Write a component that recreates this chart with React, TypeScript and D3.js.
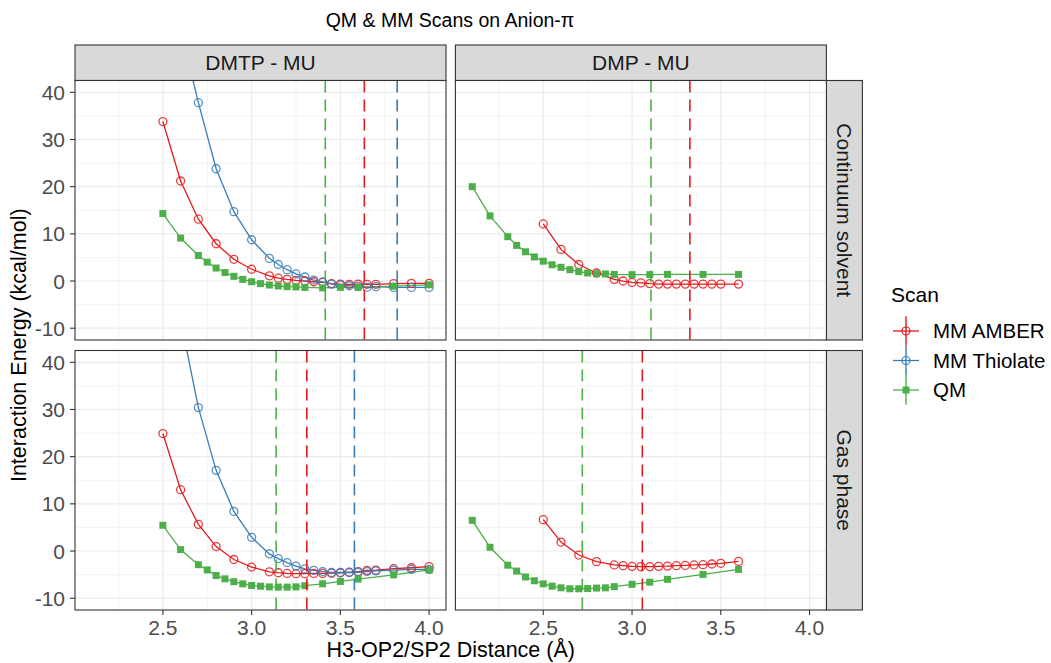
import React from "react";
import * as d3 from "d3";

// x values shared by the MM scans on DMTP - MU
const mmX_DMTP = [2.5, 2.6, 2.7, 2.8, 2.9, 3.0, 3.1, 3.15, 3.2, 3.25, 3.3, 3.35, 3.4, 3.45, 3.5, 3.55, 3.6, 3.65, 3.7, 3.8, 3.9, 4.0];
const qmX_DMTP = [2.5, 2.6, 2.7, 2.75, 2.8, 2.85, 2.9, 2.95, 3.0, 3.05, 3.1, 3.15, 3.2, 3.25, 3.3, 3.4, 3.5, 3.6, 3.8, 4.0];
const mmX_DMP = [2.5, 2.6, 2.7, 2.8, 2.9, 2.95, 3.0, 3.05, 3.1, 3.15, 3.2, 3.25, 3.3, 3.35, 3.4, 3.45, 3.5, 3.6];
const qmX_DMP = [2.1, 2.2, 2.3, 2.35, 2.4, 2.45, 2.5, 2.55, 2.6, 2.65, 2.7, 2.75, 2.8, 2.85, 2.9, 3.0, 3.1, 3.2, 3.4, 3.6];

// Continuum solvent
const amberSolvDMTP = [33.8, 21.2, 13.1, 7.9, 4.6, 2.5, 1.1, 0.6, 0.35, 0.15, 0, -0.15, -0.3, -0.55, -0.65, -0.7, -0.65, -0.7, -0.7, -0.55, -0.5, -0.5];
const thiolSolvDMTP = [78, 53.5, 37.8, 23.8, 14.7, 8.75, 4.8, 3.5, 2.4, 1.5, 0.85, 0.2, -0.2, -0.65, -0.85, -1.0, -1.1, -1.3, -1.2, -1.35, -1.35, -1.35];
const qmSolvDMTP = [14.3, 9.1, 5.4, 4.0, 2.75, 1.8, 1.0, 0.35, -0.15, -0.55, -0.85, -1.05, -1.2, -1.25, -1.35, -1.45, -1.35, -1.35, -1.1, -0.8];
const amberSolvDMP = [12.1, 6.7, 3.5, 1.7, 0.35, 0, -0.3, -0.4, -0.55, -0.65, -0.65, -0.65, -0.65, -0.65, -0.65, -0.65, -0.65, -0.65];
const qmSolvDMP = [20.0, 13.8, 9.4, 7.55, 6.2, 5.1, 4.2, 3.45, 2.9, 2.4, 2.0, 1.7, 1.55, 1.5, 1.4, 1.35, 1.35, 1.4, 1.4, 1.4];

// Gas phase
const amberGasDMTP = [24.9, 13.0, 5.65, 0.95, -1.8, -3.4, -4.4, -4.6, -4.75, -4.8, -4.8, -4.75, -4.75, -4.7, -4.6, -4.5, -4.35, -4.1, -4.05, -3.75, -3.55, -3.3];
const thiolGasDMTP = [73, 49, 30.4, 17.1, 8.4, 2.9, -0.6, -1.6, -2.45, -3.2, -3.8, -4.1, -4.35, -4.55, -4.55, -4.55, -4.5, -4.35, -4.2, -4.05, -3.9, -3.9];
const qmGasDMTP = [5.45, 0.3, -2.9, -4.0, -5.2, -5.9, -6.5, -6.95, -7.3, -7.45, -7.6, -7.65, -7.65, -7.6, -7.35, -6.95, -6.45, -5.95, -5.05, -4.0];
const amberGasDMP = [6.65, 1.9, -0.85, -2.25, -2.95, -3.1, -3.25, -3.3, -3.3, -3.25, -3.2, -3.1, -3.05, -2.95, -2.9, -2.75, -2.6, -2.2];
const qmGasDMP = [6.5, 0.8, -3.0, -4.25, -5.5, -6.3, -6.95, -7.45, -7.8, -8.0, -8.0, -7.95, -7.85, -7.8, -7.55, -7.05, -6.6, -6.0, -4.95, -3.9];

// minimum positions (dashed lines): [AMBER, Thiolate, QM]
const minSolvDMTP = [3.635, 3.82, 3.415];
const minSolvDMP = [3.326, null, 3.107];
const minGasDMTP = [3.311, 3.579, 3.138];
const minGasDMP = [3.058, null, 2.72];

const scans = ["MM AMBER", "MM Thiolate", "QM"];
const colors = ["#E41A1C", "#377EB8", "#4DAF4A"];
const columns = ["DMTP - MU", "DMP - MU"];
const rows = ["Continuum solvent", "Gas phase"];
const xTicks = [2.5, 3.0, 3.5, 4.0];
const xMinor = [2.25, 2.75, 3.25, 3.75];
const yTicks = [-10, 0, 10, 20, 30, 40];
const yMinor = [-5, 5, 15, 25, 35];

type Series = { scan: number; x: number[]; y: number[] };
const panels: { row: number; col: number; series: Series[]; mins: (number | null)[] }[] = [
  { row: 0, col: 0, mins: minSolvDMTP, series: [
    { scan: 0, x: mmX_DMTP, y: amberSolvDMTP },
    { scan: 1, x: mmX_DMTP, y: thiolSolvDMTP },
    { scan: 2, x: qmX_DMTP, y: qmSolvDMTP },
  ] },
  { row: 0, col: 1, mins: minSolvDMP, series: [
    { scan: 0, x: mmX_DMP, y: amberSolvDMP },
    { scan: 2, x: qmX_DMP, y: qmSolvDMP },
  ] },
  { row: 1, col: 0, mins: minGasDMTP, series: [
    { scan: 0, x: mmX_DMTP, y: amberGasDMTP },
    { scan: 1, x: mmX_DMTP, y: thiolGasDMTP },
    { scan: 2, x: qmX_DMTP, y: qmGasDMTP },
  ] },
  { row: 1, col: 1, mins: minGasDMP, series: [
    { scan: 0, x: mmX_DMP, y: amberGasDMP },
    { scan: 2, x: qmX_DMP, y: qmGasDMP },
  ] },
];

const W = 1051;
const H = 663;
const panelW = 371;
const panelH = 259.5;
const colX = [75, 455.4];
const rowY = [80.5, 350.5];
const stripH = 35.5;
const stripW = 36;
const font = "'Liberation Sans', Arial, sans-serif";

const x = d3.scaleLinear().domain([2.005, 4.095]).range([0, panelW]);
const y = d3.scaleLinear().domain([-12.5, 42.5]).range([panelH, 0]);

function Panel({ p, idx }: { p: (typeof panels)[number]; idx: number }) {
  return (
    <g transform={`translate(${colX[p.col]},${rowY[p.row]})`}>
      <defs>
        <clipPath id={`clip${idx}`}>
          <rect x={0} y={0} width={panelW} height={panelH} />
        </clipPath>
      </defs>
      <rect width={panelW} height={panelH} fill="#fff" />
      {xMinor.map((t) => (
        <line key={`xm${t}`} x1={x(t)} x2={x(t)} y1={0} y2={panelH} stroke="#EBEBEB" strokeWidth={0.6} />
      ))}
      {yMinor.map((t) => (
        <line key={`ym${t}`} x1={0} x2={panelW} y1={y(t)} y2={y(t)} stroke="#EBEBEB" strokeWidth={0.6} />
      ))}
      {xTicks.map((t) => (
        <line key={`x${t}`} x1={x(t)} x2={x(t)} y1={0} y2={panelH} stroke="#EBEBEB" strokeWidth={1.2} />
      ))}
      {yTicks.map((t) => (
        <line key={`y${t}`} x1={0} x2={panelW} y1={y(t)} y2={y(t)} stroke="#EBEBEB" strokeWidth={1.2} />
      ))}
      <g clipPath={`url(#clip${idx})`}>
        {p.series.map((s, i) => {
          const path = d3
            .line<number>()
            .x((_, j) => x(s.x[j]))
            .y((d) => y(d))(s.y);
          return <path key={`l${i}`} d={path || ""} fill="none" stroke={colors[s.scan]} strokeWidth={1.3} />;
        })}
        {p.series.map((s, i) => (
          <g key={`p${i}`}>
            {s.y.map((v, j) =>
              s.scan === 2 ? (
                <rect key={j} x={x(s.x[j]) - 3.5} y={y(v) - 3.5} width={7} height={7} fill={colors[s.scan]} />
              ) : (
                <circle key={j} cx={x(s.x[j])} cy={y(v)} r={4} fill="none" stroke={colors[s.scan]} strokeWidth={1.3} strokeOpacity={0.85} />
              )
            )}
          </g>
        ))}
        {p.mins.map((m, i) =>
          m == null ? null : (
            <line key={`v${i}`} x1={x(m)} x2={x(m)} y1={0} y2={panelH} stroke={colors[i]} strokeWidth={1.6} strokeDasharray="12 7" />
          )
        )}
      </g>
      <rect width={panelW} height={panelH} fill="none" stroke="#333" strokeWidth={1.1} />
      {p.col === 0 &&
        yTicks.map((t) => (
          <g key={`yt${t}`}>
            <line x1={-5} x2={0} y1={y(t)} y2={y(t)} stroke="#333" strokeWidth={1.1} />
            <text x={-10} y={y(t)} dy="0.36em" textAnchor="end" fontSize={21} fill="#4D4D4D" fontFamily={font}>
              {t}
            </text>
          </g>
        ))}
      {p.row === 1 &&
        xTicks.map((t) => (
          <g key={`xt${t}`}>
            <line x1={x(t)} x2={x(t)} y1={panelH} y2={panelH + 5} stroke="#333" strokeWidth={1.1} />
            <text x={x(t)} y={panelH + 25} textAnchor="middle" fontSize={21} fill="#4D4D4D" fontFamily={font}>
              {t.toFixed(1)}
            </text>
          </g>
        ))}
    </g>
  );
}

export default function App() {
  const legendY = [331, 360.5, 390];
  const keyH = 29.5;
  return (
    <svg width={W} height={H} style={{ position: "absolute", left: 0, top: 0, background: "#fff" }}>
      <rect width={W} height={H} fill="#fff" />
      <text x={450} y={27} textAnchor="middle" fontSize={19.5} fontFamily={font} fill="#000">
        QM &amp; MM Scans on Anion-π
      </text>
      {columns.map((c, i) => (
        <g key={c}>
          <rect x={colX[i]} y={rowY[0] - stripH} width={panelW} height={stripH} fill="#D9D9D9" stroke="#333" strokeWidth={1.1} />
          <text x={colX[i] + panelW / 2} y={rowY[0] - stripH / 2} dy="0.36em" textAnchor="middle" fontSize={21} fill="#1A1A1A" fontFamily={font}>
            {c}
          </text>
        </g>
      ))}
      {rows.map((r, i) => {
        const sx = colX[1] + panelW;
        const cy = rowY[i] + panelH / 2;
        return (
          <g key={r}>
            <rect x={sx} y={rowY[i]} width={stripW} height={panelH} fill="#D9D9D9" stroke="#333" strokeWidth={1.1} />
            <text transform={`translate(${sx + stripW / 2},${cy}) rotate(90)`} dy="0.36em" textAnchor="middle" fontSize={21} fill="#1A1A1A" fontFamily={font}>
              {r}
            </text>
          </g>
        );
      })}
      {panels.map((p, i) => (
        <Panel key={i} p={p} idx={i} />
      ))}
      <text x={colX[0] + (colX[1] + panelW - colX[0]) / 2} y={657} textAnchor="middle" fontSize={21.5} fontFamily={font} fill="#000">
        H3-OP2/SP2 Distance (Å)
      </text>
      <text transform={`translate(26,${rowY[0] + (rowY[1] + panelH - rowY[0]) / 2}) rotate(-90)`} textAnchor="middle" fontSize={21.5} fontFamily={font} fill="#000">
        Interaction Energy (kcal/mol)
      </text>
      <text x={891} y={302} fontSize={21} fontFamily={font} fill="#000">
        Scan
      </text>
      {scans.map((s, i) => (
        <g key={s}>
          <line x1={906} x2={906} y1={legendY[i] - keyH / 2} y2={legendY[i] + keyH / 2} stroke={colors[i]} strokeWidth={1.4} />
          <line x1={893} x2={919} y1={legendY[i]} y2={legendY[i]} stroke={colors[i]} strokeWidth={1.3} />
          {i === 2 ? (
            <rect x={902.5} y={legendY[i] - 3.5} width={7} height={7} fill={colors[i]} />
          ) : (
            <circle cx={906} cy={legendY[i]} r={4} fill="none" stroke={colors[i]} strokeWidth={1.2} />
          )}
          <text x={933} y={legendY[i]} dy="0.36em" fontSize={20.5} fontFamily={font} fill="#000">
            {s}
          </text>
        </g>
      ))}
    </svg>
  );
}
